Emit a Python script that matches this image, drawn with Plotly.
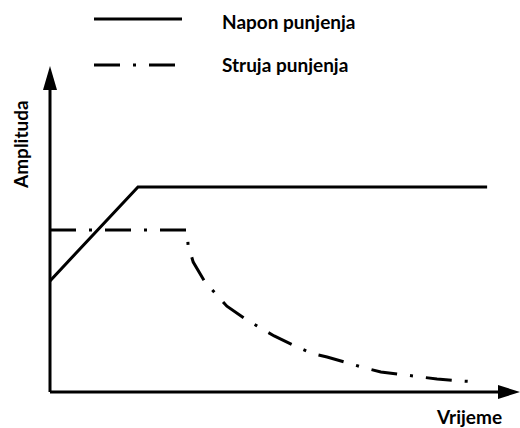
import plotly.graph_objects as go

# ---- data (arbitrary units: time 0..100, amplitude 0..100) ----
napon_t = [0, 18.8, 93.4]
napon_a = [34.3, 63.3, 63.3]

struja_t = [0, 29.3, 29.5, 30.6, 33.1, 35.5, 37.8, 42.1, 44.9, 47.9, 52.8, 55.8,
            59.2, 64.1, 67.3, 70.7, 75.9, 79.3, 82.7, 88.0, 91.5]
struja_a = [50, 50, 45.4, 40.1, 34.0, 30.2, 26.5, 22.2, 19.8, 17.3, 13.9, 12.0,
            10.8, 8.6, 7.4, 6.2, 5.2, 4.6, 4.0, 3.4, 3.1]

legend_labels = ["Napon punjenja", "Struja punjenja"]
x_label = "Vrijeme"
y_label = "Amplituda"

W, H = 520, 428
ML, MR, MT, MB = 50, 2, 68, 36
PW, PH = W - ML - MR, H - MT - MB

def px(x):
    return (x - ML) / PW

def py(y):
    return (H - MB - y) / PH

DASH = "26px,13px,3px,13px"
FONT = dict(family="Lato", size=19, color="black")

fig = go.Figure()
fig.add_trace(go.Scatter(x=napon_t, y=napon_a, mode="lines",
                         line=dict(color="black", width=3), showlegend=False,
                         hoverinfo="skip"))
fig.add_trace(go.Scatter(x=struja_t, y=struja_a, mode="lines",
                         line=dict(color="black", width=3, dash=DASH),
                         showlegend=False, hoverinfo="skip"))

shapes = []
# axes lines
shapes.append(dict(type="line", xref="paper", yref="paper",
                   x0=px(50), y0=py(392), x1=px(50), y1=py(86),
                   line=dict(color="black", width=3)))
shapes.append(dict(type="line", xref="paper", yref="paper",
                   x0=px(50), y0=py(392), x1=px(506), y1=py(392),
                   line=dict(color="black", width=3)))
# arrowheads
shapes.append(dict(type="path", xref="paper", yref="paper",
                   path=f"M {px(43)} {py(90)} L {px(57)} {py(90)} L {px(50)} {py(66)} Z",
                   fillcolor="black", line=dict(color="black", width=0)))
shapes.append(dict(type="path", xref="paper", yref="paper",
                   path=f"M {px(498)} {py(385)} L {px(498)} {py(399)} L {px(520)} {py(392)} Z",
                   fillcolor="black", line=dict(color="black", width=0)))
# legend samples
shapes.append(dict(type="line", xref="paper", yref="paper",
                   x0=px(94), y0=py(19), x1=px(182), y1=py(19),
                   line=dict(color="black", width=3)))
shapes.append(dict(type="line", xref="paper", yref="paper",
                   x0=px(94), y0=py(65), x1=px(176), y1=py(65),
                   line=dict(color="black", width=3, dash=DASH)))

annotations = [
    dict(text=f"<b>{legend_labels[0]}</b>", xref="paper", yref="paper",
         x=px(220), y=py(21), xanchor="left", yanchor="middle",
         showarrow=False, font=FONT),
    dict(text=f"<b>{legend_labels[1]}</b>", xref="paper", yref="paper",
         x=px(220), y=py(65), xanchor="left", yanchor="middle",
         showarrow=False, font=FONT),
    dict(text=f"<b>{x_label}</b>", xref="paper", yref="paper",
         x=px(469), y=py(417), xanchor="center", yanchor="middle",
         showarrow=False, font=FONT),
    dict(text=f"<b>{y_label}</b>", xref="paper", yref="paper",
         x=px(20), y=py(145), xanchor="center", yanchor="middle",
         showarrow=False, font=FONT, textangle=-90),
]

fig.update_layout(
    width=W, height=H,
    margin=dict(l=ML, r=MR, t=MT, b=MB),
    paper_bgcolor="white", plot_bgcolor="white",
    xaxis=dict(range=[0, 100], visible=False, fixedrange=True),
    yaxis=dict(range=[0, 100], visible=False, fixedrange=True),
    shapes=shapes, annotations=annotations,
    showlegend=False,
)

fig.write_html("out.html", config={"displayModeBar": False},
               post_script="document.body.style.margin='0';")
